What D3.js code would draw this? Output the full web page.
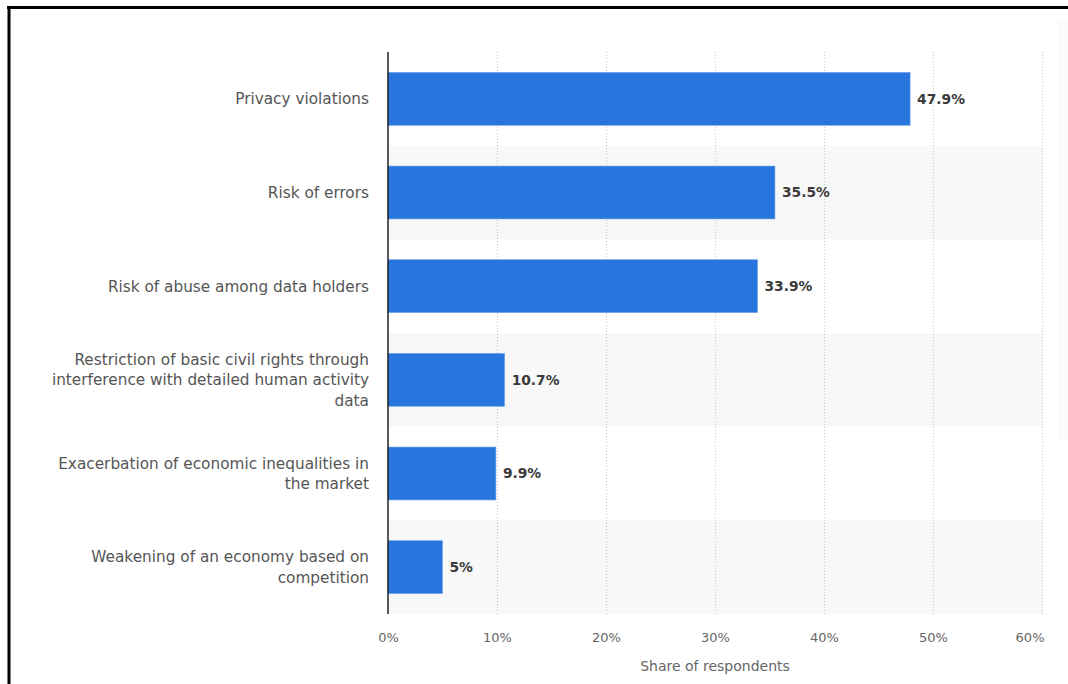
<!DOCTYPE html>
<html>
<head>
<meta charset="utf-8">
<script src="https://cdn.jsdelivr.net/npm/d3@7"></script>
<style>
  body { margin: 0; background: #fff; }
  svg { display: block; font-family: "DejaVu Sans", Verdana, sans-serif; }
</style>
</head>
<body>
<div id="chart"></div>
<script>
//~~~~~~~~~~~~~~~~~~DATA
let categories = [
  'Privacy violations',
  'Risk of errors',
  'Risk of abuse among data holders',
  'Restriction of basic civil rights through interference with detailed human activity data',
  'Exacerbation of economic inequalities in the market',
  'Weakening of an economy based on competition'
];
let shares = [47.9, 35.5, 33.9, 10.7, 9.9, 5];
let tickValues = [0, 10, 20, 30, 40, 50, 60];

//~~~~~~~~~~~~~~~~~~VARIABLES
let width = 1068;
let height = 684;
let plotLeft = 388, plotRight = 1042, plotTop = 52, plotBottom = 614;
let barColor = '#2876dd';

let svg = d3.select('#chart')
  .append('svg')
  .attr('width', width)
  .attr('height', height);

//frame lines (top and left only)
svg.append('line').attr('x1', 7).attr('x2', width).attr('y1', 7.5).attr('y2', 7.5)
  .attr('stroke', '#000').attr('stroke-width', 3);
svg.append('line').attr('x1', 9).attr('x2', 9).attr('y1', 6).attr('y2', height)
  .attr('stroke', '#000').attr('stroke-width', 3);

//faint strip at right edge
svg.append('rect').attr('x', 1058).attr('y', 20).attr('width', 10).attr('height', 420)
  .attr('fill', '#fbfbfb');

let x = d3.scaleLinear().domain([0, 60]).range([plotLeft, plotRight]);
let y = d3.scaleBand().domain(categories).range([plotTop, plotBottom]).paddingInner(0.435).paddingOuter(0.2175);

//alternating band backgrounds
let step = y.step();
svg.selectAll('.band')
  .data(categories.filter(function(d, i) { return i % 2 === 1; }))
  .enter()
  .append('rect')
  .attr('class', 'band')
  .attr('x', plotLeft)
  .attr('y', function(d) { return y(d) - (step - y.bandwidth()) / 2; })
  .attr('width', plotRight - plotLeft + 1)
  .attr('height', step)
  .attr('fill', '#f8f8f8');

//gridlines
svg.selectAll('.grid')
  .data(tickValues.slice(1))
  .enter()
  .append('line')
  .attr('class', 'grid')
  .attr('x1', function(d) { return x(d) + 0.5; })
  .attr('x2', function(d) { return x(d) + 0.5; })
  .attr('y1', plotTop)
  .attr('y2', plotBottom)
  .attr('stroke', '#c8c8c8')
  .attr('stroke-dasharray', '1,2');

//bars
svg.selectAll('.bar')
  .data(shares)
  .enter()
  .append('rect')
  .attr('class', 'bar')
  .attr('x', plotLeft)
  .attr('y', function(d, i) { return y(categories[i]); })
  .attr('width', function(d) { return x(d) - plotLeft; })
  .attr('height', y.bandwidth())
  .attr('fill', barColor)
  .attr('stroke', '#6fa3ea')
  .attr('stroke-width', 0.6);

//value labels
svg.selectAll('.value')
  .data(shares)
  .enter()
  .append('text')
  .attr('class', 'value')
  .attr('x', function(d) { return x(d) + 7; })
  .attr('y', function(d, i) { return y(categories[i]) + y.bandwidth() / 2; })
  .attr('dy', '0.35em')
  .attr('font-size', 13.8)
  .attr('font-weight', 'bold')
  .attr('fill', '#3a3a3a')
  .text(function(d) { return d + '%'; });

//y axis line
svg.append('line')
  .attr('x1', plotLeft).attr('x2', plotLeft)
  .attr('y1', plotTop).attr('y2', plotBottom)
  .attr('stroke', '#222').attr('stroke-width', 1.5);

//category labels, wrapped
let labels = svg.selectAll('.cat')
  .data(categories)
  .enter()
  .append('text')
  .attr('class', 'cat')
  .attr('text-anchor', 'end')
  .attr('font-size', 15.3)
  .attr('fill', '#555');

labels.each(function(d) {
  let text = d3.select(this);
  let words = d.split(' ');
  let lines = [];
  let line = [];
  let tspan = text.append('tspan');
  words.forEach(function(w) {
    line.push(w);
    tspan.text(line.join(' '));
    if (tspan.node().getComputedTextLength() > 328 && line.length > 1) {
      line.pop();
      lines.push(line.join(' '));
      line = [w];
    }
  });
  lines.push(line.join(' '));
  tspan.remove();
  let lineH = 20.5;
  let cy = y(d) + y.bandwidth() / 2 - (lines.length - 1) * lineH / 2;
  lines.forEach(function(l, i) {
    text.append('tspan')
      .attr('x', 369)
      .attr('y', cy + i * lineH)
      .attr('dy', '0.35em')
      .text(l);
  });
});

//x axis tick labels
let xAxis = d3.axisBottom(x)
  .tickValues(tickValues)
  .tickSize(0)
  .tickPadding(0)
  .tickFormat(function(d) { return d + '%'; });

let gx = svg.append('g')
  .attr('transform', 'translate(0,' + 633 + ')')
  .call(xAxis);
gx.select('.domain').remove();
gx.selectAll('text')
  .attr('font-size', 13)
  .attr('font-family', '"DejaVu Sans", Verdana, sans-serif')
  .attr('fill', '#666');
//last label kept inside the plot
gx.selectAll('text')
  .filter(function(d) { return d === 60; })
  .attr('text-anchor', 'end')
  .attr('x', 2);

//axis title
svg.append('text')
  .attr('x', 715)
  .attr('y', 671)
  .attr('text-anchor', 'middle')
  .attr('font-size', 14)
  .attr('fill', '#666')
  .text('Share of respondents');
</script>
</body>
</html>
